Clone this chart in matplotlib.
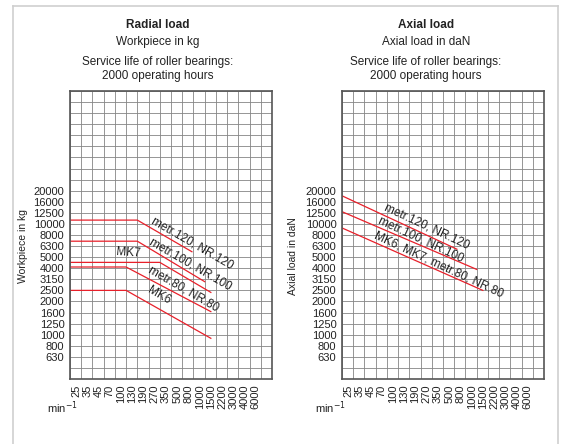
import numpy as np
import matplotlib
matplotlib.use('Agg')
import matplotlib.pyplot as plt
from matplotlib.lines import Line2D

plt.rcParams['font.family'] = ['Liberation Sans', 'DejaVu Sans']

# axis scales (labelled grid lines)
speed_ticks = [25, 35, 45, 70, 100, 130, 190, 270, 350, 500, 800, 1000,
               1500, 2200, 3000, 4000, 6000]
load_ticks = [630, 800, 1000, 1250, 1600, 2000, 2500, 3150, 4000, 5000,
              6300, 8000, 10000, 12500, 16000, 20000]

# radial load curves: load (kg) up to break speed, then falls to end point
radial_names = ['metr.120, NR.120', 'metr.100, NR.100', 'MK7',
                'metr.80, NR.80', 'MK6']
radial_load = [10800, 7000, 4500, 4100, 2500]
radial_break_rpm = [130, 130, 270, 100, 100]
radial_end_rpm = [750, 1000, 1250, 1250, 1250]
radial_end_load = [5600, 3000, 2400, 1630, 930]

# axial load curves (daN)
axial_names = ['metr.120, NR.120', 'metr.100, NR.100',
               'MK6, MK7, metr.80, NR.80']
axial_start_rpm = [18, 18, 18]
axial_start_load = [18000, 12800, 9200]
axial_end_rpm = [560, 1000, 1250]
axial_end_load = [5900, 3900, 2500]


def to_pos(v, ticks, first):
    # log interpolation between labelled grid lines, linear beyond the ends
    lt = np.log(ticks)
    pos = np.arange(len(ticks)) + first
    v = np.log(np.atleast_1d(np.asarray(v, float)))
    p = np.interp(v, lt, pos)
    lo = v < lt[0]
    p[lo] = pos[0] + (v[lo] - lt[0]) / (lt[1] - lt[0])
    hi = v > lt[-1]
    p[hi] = pos[-1] + (v[hi] - lt[-1]) / (lt[-1] - lt[-2])
    return p


def xs(v):
    return to_pos(v, speed_ticks, 1)


def ys(v):
    return to_pos(v, load_ticks, 2)


W, H = 562, 444
fig = plt.figure(figsize=(W / 100, H / 100), dpi=100)

red = '#e8202a'
txt = '#222222'


def setup(ax):
    ax.set_xlim(0, 18)
    ax.set_ylim(0, 26)
    ax.set_xticks(np.arange(1, 18))
    ax.set_xticklabels([str(t) for t in speed_ticks], rotation=90,
                       ha='right', va='top', fontsize=8, color=txt)
    ax.set_yticks(np.arange(2, 18))
    ax.set_yticklabels([str(t) for t in load_ticks], fontsize=8, color=txt)
    ax.set_xticks(np.arange(0, 19), minor=True)
    ax.set_yticks(np.arange(0, 27), minor=True)
    ax.grid(which='both', color='#858585', lw=0.6)
    ax.tick_params(which='both', length=0)
    ax.tick_params(axis='x', pad=4)
    ax.tick_params(axis='y', pad=4)
    for s in ax.spines.values():
        s.set_color('#555555')
        s.set_linewidth(1.2)


def ax_rect(x0, x1, y0, y1):
    return [x0 / W, 1 - y1 / H, (x1 - x0) / W, (y1 - y0) / H]


ax1 = fig.add_axes(ax_rect(70, 272, 91, 379))
ax2 = fig.add_axes(ax_rect(342, 544, 91, 379))
setup(ax1)
setup(ax2)

# radial
for k in range(len(radial_names)):
    px = xs([speed_ticks[0] / 1.5, radial_break_rpm[k], radial_end_rpm[k]])
    py = ys([radial_load[k], radial_load[k], radial_end_load[k]])
    ax1.plot(px, py, color=red, lw=0.9)

# label positions in figure pixels
radial_lab = [(192, 243, -30), (190.5, 264, -30), (128.7, 253.3, -4),
              (184, 289, -30), (159, 295.7, -30)]
for name, (x, y, r) in zip(radial_names, radial_lab):
    fig.text(x / W, 1 - y / H, name, rotation=r, rotation_mode='anchor',
             ha='center', va='center', fontsize=8.5, color=txt)

# axial
for k in range(len(axial_names)):
    px = xs([axial_start_rpm[k], axial_end_rpm[k]])
    py = ys([axial_start_load[k], axial_end_load[k]])
    ax2.plot(px, py, color=red, lw=0.9)

axial_lab = [(427, 226.7, -25), (420.5, 240, -25), (439, 265, -25)]
for name, (x, y, r) in zip(axial_names, axial_lab):
    fig.text(x / W, 1 - y / H, name, rotation=r, rotation_mode='anchor',
             ha='center', va='center', fontsize=8.5, color=txt)

# titles
for cx, t1, t2 in [(158, 'Radial load', 'Workpiece in kg'),
                   (426, 'Axial load', 'Axial load in daN')]:
    fig.text(cx / W, 1 - 25 / H, t1, ha='center', va='center',
             fontsize=8.5, fontweight='bold', color=txt)
    fig.text(cx / W, 1 - 41.7 / H, t2, ha='center', va='center',
             fontsize=8.5, color=txt)
    fig.text(cx / W, 1 - 61.7 / H, 'Service life of roller bearings:',
             ha='center', va='center', fontsize=8.5, color=txt)
    fig.text(cx / W, 1 - 76.5 / H, '2000 operating hours',
             ha='center', va='center', fontsize=8.5, color=txt)

# y axis labels and unit
fig.text(23 / W, 1 - 246 / H, 'Workpiece in kg', rotation=90,
         ha='center', va='center', fontsize=7.5, color=txt)
fig.text(293.5 / W, 1 - 256 / H, 'Axial load in daN', rotation=90,
         ha='center', va='center', fontsize=7.5, color=txt)
fig.text(47 / W, 1 - 408 / H, 'min$^{-1}$', ha='left', va='center',
         fontsize=8, color=txt)
fig.text(315 / W, 1 - 408 / H, 'min$^{-1}$', ha='left', va='center',
         fontsize=8, color=txt)

# outer frame
fc = '#cfcfcf'
fig.add_artist(Line2D([13 / W, 13 / W], [0, 1 - 6 / H], color=fc, lw=1.2))
fig.add_artist(Line2D([13 / W, 558 / W], [1 - 6 / H, 1 - 6 / H], color=fc, lw=1.2))
fig.add_artist(Line2D([558 / W, 558 / W], [0, 1 - 6 / H], color=fc, lw=1.2))

fig.savefig('out.png', dpi=100)
